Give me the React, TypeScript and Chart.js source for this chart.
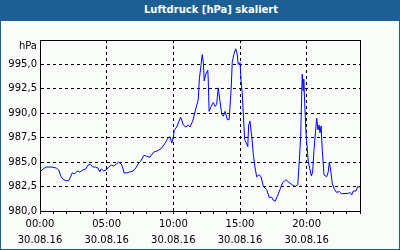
import React, { useEffect, useRef } from "react";
import { Chart, registerables } from "chart.js";

Chart.register(...registerables);

const TITLE = "Luftdruck [hPa] skaliert";
const UNIT = "hPa";
const DATE_LABEL = "30.08.16";
const HOUR_LABELS = ["00:00", "05:00", "10:00", "15:00", "20:00"];

// minutes since 00:00
const minutes = [0, 14, 28, 51, 73, 84, 93, 103, 118, 129, 138, 145, 156, 168, 179, 193, 206, 216, 226, 238, 249, 261, 269, 276, 287, 298, 309, 321, 332, 343, 354, 366, 374, 378, 388, 404, 419, 431, 441, 453, 468, 480, 495, 510, 532, 548, 563, 577, 585, 593, 600, 604, 615, 633, 645, 657, 667, 675, 687, 698, 712, 717, 725, 730, 735, 739, 746, 755, 757, 761, 770, 780, 788, 795, 802, 810, 818, 825, 833, 843, 851, 860, 865, 872, 881, 887, 892, 900, 905, 910, 917, 921, 928, 935, 939, 945, 953, 960, 968, 975, 986, 995, 1005, 1020, 1031, 1043, 1050, 1058, 1068, 1080, 1092, 1107, 1117, 1133, 1148, 1160, 1167, 1173, 1176, 1180, 1184, 1187, 1191, 1197, 1203, 1207, 1215, 1221, 1227, 1233, 1240, 1245, 1251, 1256, 1260, 1265, 1270, 1278, 1290, 1297, 1302, 1308, 1315, 1323, 1335, 1347, 1358, 1373, 1387, 1395, 1403, 1410, 1422, 1430, 1437];

const pressure = [984.0, 984.3, 984.5, 984.5, 984.4, 984.2, 983.6, 983.25, 983.1, 983.1, 983.5, 983.9, 983.8, 984.1, 984.0, 984.2, 984.3, 984.7, 984.8, 984.5, 984.5, 984.4, 984.0, 984.3, 984.1, 984.2, 984.5, 984.7, 984.6, 984.8, 985.0, 984.8, 984.3, 983.9, 983.9, 984.0, 984.1, 984.4, 984.8, 985.1, 985.7, 985.6, 985.5, 986.0, 986.2, 986.45, 986.95, 987.5, 987.6, 986.95, 987.6, 988.25, 988.6, 989.6, 988.8, 988.6, 988.8, 988.6, 989.2, 990.2, 991.4, 993.5, 995.0, 996.0, 995.2, 993.3, 994.0, 994.4, 993.5, 990.2, 990.7, 991.1, 990.7, 990.9, 992.6, 991.2, 989.9, 989.7, 990.2, 989.35, 989.35, 992.4, 995.2, 996.0, 996.6, 996.1, 995.0, 995.2, 993.3, 992.1, 989.0, 987.3, 986.95, 986.6, 988.8, 989.2, 987.6, 985.75, 984.4, 983.5, 983.7, 983.5, 982.5, 982.2, 981.4, 981.4, 981.1, 981.0, 981.5, 982.2, 982.9, 983.2, 983.0, 982.7, 982.5, 982.7, 985.2, 987.6, 990.4, 994.0, 992.3, 993.5, 991.1, 988.0, 986.3, 985.1, 984.2, 983.6, 984.0, 986.3, 988.15, 989.5, 988.3, 988.8, 988.0, 988.7, 986.3, 983.7, 983.5, 984.0, 985.0, 984.2, 982.85, 982.3, 981.9, 982.0, 981.75, 981.8, 981.8, 981.9, 981.65, 982.05, 982.05, 982.5, 982.4];

const Y_MIN = 980;
const Y_MAX = 997.5;
const Y_STEP = 2.5;
const X_MAX_HOURS = 24;

const BLUE = "#1c5f95";
const BG = "#f9fcf9";
const FONT = "DejaVu Sans";
const DASH = [3, 3];

export default function App() {
  const ref = useRef<HTMLCanvasElement | null>(null);

  useEffect(() => {
    document.body.style.margin = "0";
    const canvas = ref.current;
    if (!canvas) return;

    const framePlugin = {
      id: "frame",
      afterDatasetsDraw(chart: any) {
        const { ctx, chartArea } = chart;
        ctx.save();
        ctx.strokeStyle = "#000";
        ctx.lineWidth = 1;
        ctx.setLineDash([]);
        ctx.strokeRect(
          chartArea.left + 0.5,
          chartArea.top + 0.5,
          chartArea.right - chartArea.left,
          chartArea.bottom - chartArea.top
        );
        ctx.fillStyle = "#000";
        ctx.font = `10px "${FONT}"`;
        ctx.textAlign = "right";
        ctx.textBaseline = "middle";
        ctx.fillText(UNIT, chartArea.left - 3, chartArea.top + 6);
        ctx.restore();
      },
    };

    const chart = new Chart(canvas, {
      type: "line",
      data: {
        datasets: [
          {
            data: minutes.map((m, i) => ({ x: m / 60, y: pressure[i] })),
            borderColor: "#0000ff",
            borderWidth: 1,
            pointRadius: 0,
            tension: 0,
            fill: false,
          },
        ],
      },
      options: {
        responsive: false,
        animation: false,
        devicePixelRatio: 1,
        layout: { padding: { left: 0, top: 40, right: 40, bottom: 0 } },
        plugins: {
          legend: { display: false },
          tooltip: { enabled: false },
          title: { display: false },
        },
        scales: {
          x: {
            type: "linear",
            min: 0,
            max: X_MAX_HOURS,
            afterFit: (s: any) => {
              s.height = 39;
            },
            grid: {
              color: (c: any) =>
                c.tick && c.tick.value % 5 === 0 ? "#000" : "rgba(0,0,0,0)",
              tickColor: "#000",
              tickLength: 3,
              drawTicks: true,
              lineWidth: 1,
            },
            border: { display: true, color: "#000", width: 1, dash: DASH },
            ticks: {
              stepSize: 1,
              autoSkip: false,
              maxRotation: 0,
              padding: 2,
              color: "#000",
              font: { family: FONT, size: 10, lineHeight: 1.6 },
              callback: (v: any) => {
                const n = Number(v);
                if (n % 5 === 0 && n / 5 < HOUR_LABELS.length) {
                  return [HOUR_LABELS[n / 5], DATE_LABEL];
                }
                return "";
              },
            },
          },
          y: {
            type: "linear",
            min: Y_MIN,
            max: Y_MAX,
            afterFit: (s: any) => {
              s.width = 40;
            },
            grid: {
              color: "#000",
              drawTicks: false,
              lineWidth: 1,
            },
            border: { display: true, color: "#000", width: 1, dash: DASH },
            ticks: {
              stepSize: Y_STEP,
              padding: 3,
              color: "#000",
              font: { family: FONT, size: 10 },
              callback: (v: any) => {
                const n = Number(v);
                if (n >= Y_MAX) return "";
                return n.toFixed(1).replace(".", ",");
              },
            },
          },
        },
      },
      plugins: [framePlugin],
    });

    return () => {
      chart.destroy();
    };
  }, []);

  return (
    <div
      style={{
        position: "relative",
        width: 400,
        height: 250,
        background: BG,
        overflow: "hidden",
      }}
    >
      <canvas
        ref={ref}
        width={400}
        height={250}
        style={{ position: "absolute", left: 0, top: 0, width: 400, height: 250 }}
      />
      <div
        style={{
          position: "absolute",
          left: 0,
          top: 0,
          width: 400,
          height: 21,
          background: BLUE,
          color: "#fff",
          fontFamily: FONT,
          fontWeight: "bold",
          fontSize: 10,
          lineHeight: "20px",
          textAlign: "center",
          paddingLeft: 22,
          boxSizing: "border-box",
        }}
      >
        {TITLE}
      </div>
      <div
        style={{
          position: "absolute",
          left: 0,
          top: 0,
          width: 400,
          height: 250,
          border: `1px solid ${BLUE}`,
          boxSizing: "border-box",
          pointerEvents: "none",
        }}
      />
    </div>
  );
}
